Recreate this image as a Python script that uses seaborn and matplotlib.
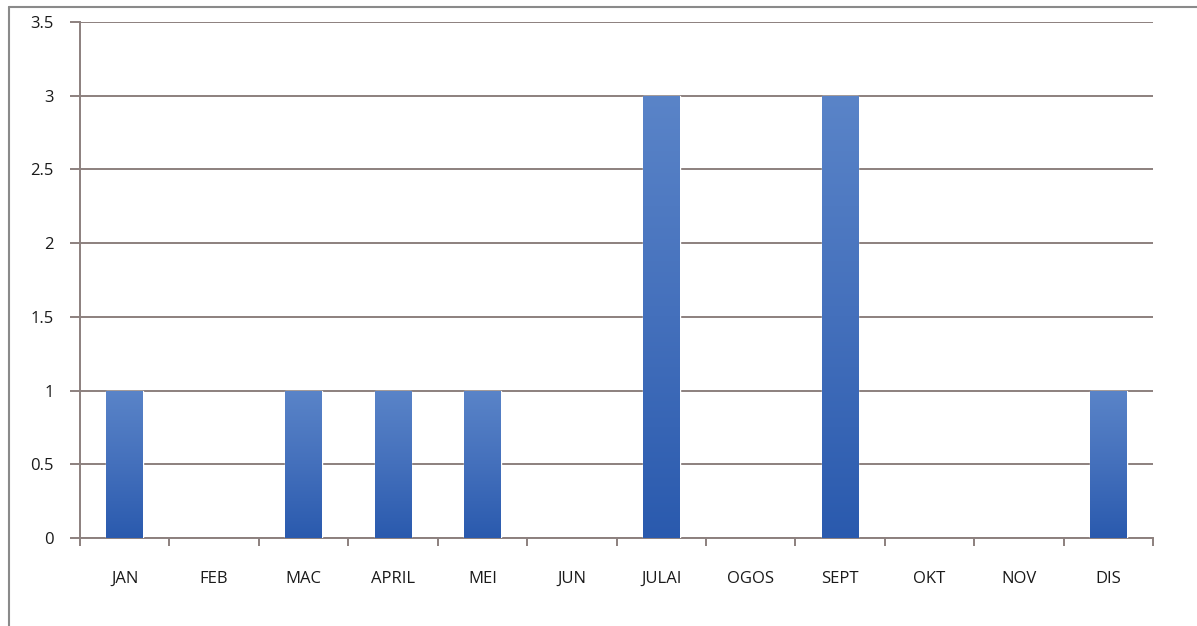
import numpy as np
import pandas as pd
import matplotlib
matplotlib.use("Agg")
import matplotlib.pyplot as plt
import seaborn as sns
from matplotlib.colors import LinearSegmentedColormap
from matplotlib.lines import Line2D

months = ["JAN", "FEB", "MAC", "APRIL", "MEI", "JUN", "JULAI", "OGOS", "SEPT", "OKT", "NOV", "DIS"]
counts = [1, 0, 1, 1, 1, 0, 3, 0, 3, 0, 0, 1]
yticks = [0, 0.5, 1, 1.5, 2, 2.5, 3, 3.5]
ytick_labels = ["0", "0.5", "1", "1.5", "2", "2.5", "3", "3.5"]

sns.set_theme(style="white")
plt.rcParams['font.family'] = ['Open Sans', 'DejaVu Sans']

df = pd.DataFrame({"month": months, "count": counts})

fig = plt.figure(figsize=(11.97, 6.26), dpi=100)
ax = fig.add_axes([0.0668, 0.1406, 0.8965, 0.8244])

sns.barplot(data=df, x="month", y="count", order=months, color="#3F6DBB",
            width=0.41, ax=ax, zorder=3, saturation=1)

# gradient fill for bars
cmap = LinearSegmentedColormap.from_list("g", ["#2A5AAE", "#4470BC", "#5A84C8"])
grad = np.linspace(0, 1, 256).reshape(-1, 1)
for p in ax.patches:
    x0, y0 = p.get_x(), p.get_y()
    w, h = p.get_width(), p.get_height()
    if h <= 0:
        p.set_visible(False)
        continue
    im = ax.imshow(grad, extent=[x0, x0 + w, y0, y0 + h], origin="lower",
                   cmap=cmap, aspect="auto", zorder=3.5)
    im.set_clip_path(p)

ax.set_xlim(-0.5, len(months) - 0.5)
ax.set_ylim(0, 3.5)
ax.set_yticks(yticks)
ax.set_yticklabels(ytick_labels)
ax.set_xlabel("")
ax.set_ylabel("")

gridc = "#8C807E"
ax.yaxis.grid(True, color=gridc, linewidth=1.4, zorder=0)
ax.xaxis.grid(False)
ax.set_axisbelow(True)

for s in ["top", "right"]:
    ax.spines[s].set_visible(False)
for s in ["left", "bottom"]:
    ax.spines[s].set_color(gridc)
    ax.spines[s].set_linewidth(1.4)

# x ticks at category boundaries
ax.set_xticks(np.arange(len(months)), labels=months)
ax.set_xticks(np.arange(-0.5, len(months)), minor=True)
ax.tick_params(axis="x", which="major", length=0, pad=24, labelsize=12, labelcolor="#1A1A1A")
ax.tick_params(axis="x", which="minor", length=6, width=1.4, color=gridc, direction="out", bottom=True)
ax.tick_params(axis="y", which="major", length=7, width=1.4, color=gridc, direction="out",
               left=True, pad=12, labelsize=12, labelcolor="#1A1A1A")

# outer chart border (left and top)
fig.add_artist(Line2D([0.0075, 0.0075], [0.0, 0.989], color="#8A8A8A", linewidth=1.5))
fig.add_artist(Line2D([0.0075, 1.0], [0.989, 0.989], color="#8A8A8A", linewidth=1.5))

fig.savefig("out.png", dpi=100, facecolor="white")
